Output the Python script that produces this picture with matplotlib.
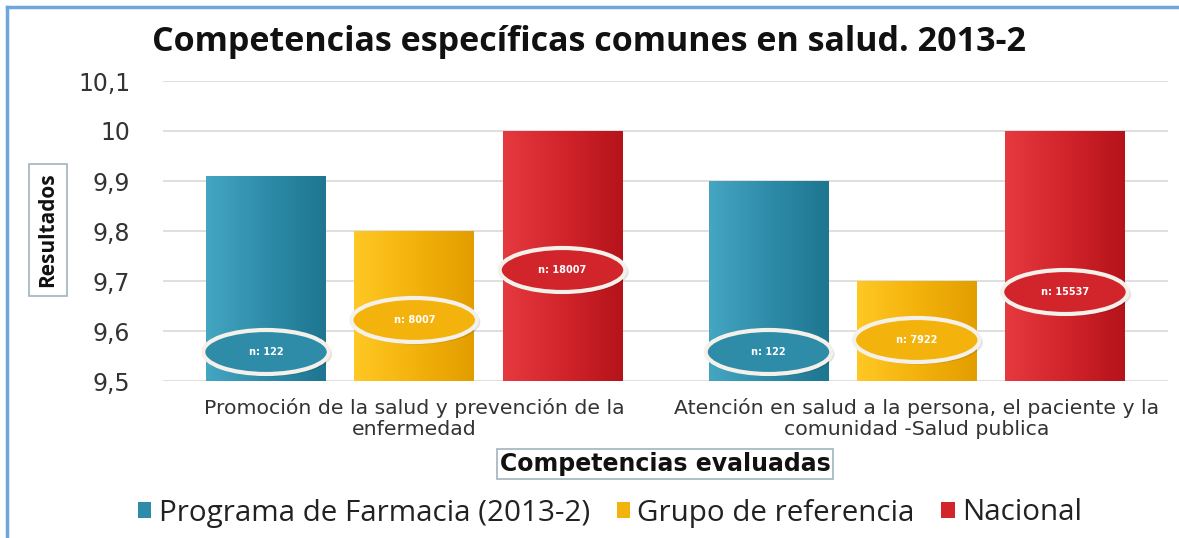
import numpy as np
import matplotlib
matplotlib.use("Agg")
import matplotlib.pyplot as plt
from matplotlib.patches import Ellipse, Rectangle
from matplotlib.colors import LinearSegmentedColormap
from matplotlib.lines import Line2D
from matplotlib.ticker import FuncFormatter

# ---- data ----
categories = ["Promoción de la salud y prevención de la\nenfermedad",
              "Atención en salud a la persona, el paciente y la\ncomunidad -Salud publica"]
series_names = ["Programa de Farmacia (2013-2)", "Grupo de referencia", "Nacional"]
programa = [9.91, 9.90]
grupo = [9.80, 9.70]
nacional = [10.0, 10.0]
n_programa = ["n: 122", "n: 122"]
n_grupo = ["n: 8007", "n: 7922"]
n_nacional = ["n: 18007", "n: 15537"]
yticks = [9.5, 9.6, 9.7, 9.8, 9.9, 10.0, 10.1]

# ---- layout/style ----
label_y = [[9.558, 9.558], [9.622, 9.582], [9.722, 9.678]]
colors_light = ["#45A6C2", "#FFC824", "#E53A3F"]
colors_dark = ["#1E7690", "#E29E00", "#B5131A"]
colors_mid = ["#2E8CA9", "#F4B20C", "#D2242B"]

fig = plt.figure(figsize=(11.79, 5.38), dpi=100)
ax = fig.add_axes([163/1179, 1-381/538, (1168-163)/1179, (381-81)/538])

values = [programa, grupo, nacional]
labels = [n_programa, n_grupo, n_nacional]
x = np.arange(len(categories))
width = 0.238
offsets = [-0.295, 0.0, 0.295]

ax.set_xlim(-0.5, 1.5)
ax.set_ylim(9.5, 10.1)
ax.set_yticks(yticks)
ax.yaxis.set_major_formatter(FuncFormatter(lambda v, p: (f"{v:.1f}".rstrip('0').rstrip('.')).replace('.', ',')))
ax.grid(axis='y', color='#D9D9D9', lw=1.2, zorder=0)
ax.set_axisbelow(True)
for s in ax.spines.values():
    s.set_visible(False)
ax.tick_params(axis='y', length=0, pad=23.5, labelsize=17, labelcolor='#333333')
ax.tick_params(axis='x', length=0, pad=12, labelsize=14.7, labelcolor='#333333')
ax.set_xticks(x)
ax.set_xticklabels(categories, linespacing=1.15)

grad = np.linspace(0, 1, 256).reshape(1, -1)
for i, (vals, labs) in enumerate(zip(values, labels)):
    cmap = LinearSegmentedColormap.from_list(f"c{i}", [colors_light[i], colors_mid[i], colors_dark[i]])
    bars = ax.bar(x + offsets[i], [v - 9.5 for v in vals], width, bottom=9.5,
                  color=colors_mid[i], zorder=2, label=series_names[i])
    for b in bars:
        x0, y0 = b.get_x(), b.get_y()
        im = ax.imshow(grad, cmap=cmap, aspect='auto', zorder=2.5,
                       extent=[x0, x0 + b.get_width(), y0, y0 + b.get_height()])
        im.set_clip_path(b)
    for j in range(len(categories)):
        cx = x[j] + offsets[i]
        cy = label_y[i][j]
        sh = Ellipse((cx + 0.004, cy - 0.004), 0.255, 0.09, facecolor='#000000', alpha=0.12,
                     edgecolor='none', zorder=3)
        ax.add_patch(sh)
        e = Ellipse((cx, cy), 0.25, 0.088, facecolor=colors_mid[i], edgecolor='#F4F1EA',
                    lw=3, zorder=4)
        ax.add_patch(e)
        ax.text(cx, cy, labs[j], ha='center', va='center', color='white', fontsize=7,
                fontweight='bold', zorder=5)

ax.set_xlim(-0.5, 1.5)
ax.set_ylim(9.5, 10.1)

# title
fig.text(0.5, 1-42/538, "Competencias específicas comunes en salud. 2013-2", ha='center', va='center',
         fontsize=24.5, fontweight='bold', family='Open Sans', color='#111111')

# y label
fig.text(48/1179, 1-230/538, "Resultados", rotation=90, ha='center', va='center', fontsize=15,
         fontweight='bold', family='Open Sans', color='#111111',
         bbox=dict(boxstyle='square,pad=0.42', facecolor='white', edgecolor='#9FB4BF', lw=1.2))

# x label
fig.text(665/1179, 1-464/538, "Competencias evaluadas", ha='center', va='center', fontsize=17,
         fontweight='bold', color='#111111',
         bbox=dict(boxstyle='square,pad=0.12', facecolor='white', edgecolor='#9FB4BF', lw=1.2))

# legend
handles = [Rectangle((0, 0), 1, 1, facecolor=colors_mid[i], edgecolor='none') for i in range(3)]
fig.legend(handles, series_names, loc='center', bbox_to_anchor=(610/1179, 1-513/538), ncol=3,
           frameon=False, prop={'family': 'Open Sans', 'size': 21.3}, handlelength=0.45, handleheight=0.45,
           handletextpad=0.25, columnspacing=0.9, labelcolor='#222222')

# border
fig.add_artist(Line2D([7/1179, 7/1179], [0, 1-7/538], color='#6FA6DC', lw=2.5, transform=fig.transFigure))
fig.add_artist(Line2D([7/1179, 1], [1-7/538, 1-7/538], color='#6FA6DC', lw=2.5, transform=fig.transFigure))

fig.savefig("out.png", dpi=100, facecolor='white')
